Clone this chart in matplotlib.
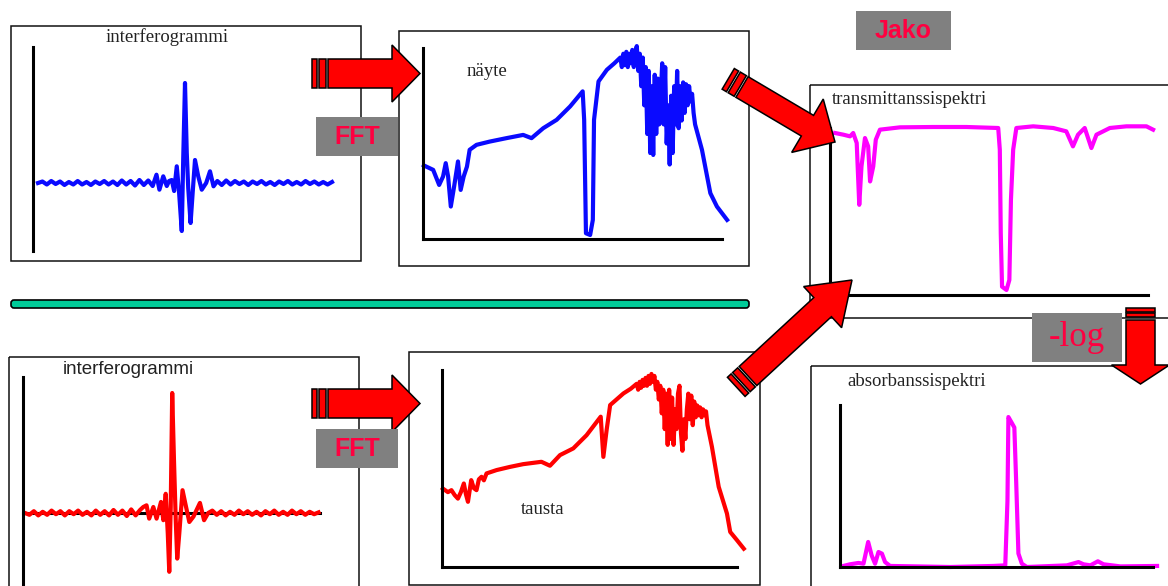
import numpy as np
import matplotlib.pyplot as plt
from matplotlib.patches import Rectangle, FancyArrow, FancyBboxPatch, Polygon

W, H = 1168, 586

# interferograms (x: optical path %, y: signal, 100 = centre burst)
blue_x = [0, 1.5, 3, 4.5, 6, 7.5, 9, 10.5, 12, 13.5, 15, 16.5, 18, 19.5, 21, 22.5, 24, 25.5, 27, 28.5, 30, 31.5, 33, 34.5, 36, 37.5, 39,
          40.3, 41.3, 42.6, 43.8, 44.6, 45.5, 46.3, 47.2, 48.0, 48.9, 49.4, 50.0, 50.6, 51.1, 51.9, 52.6, 53.4, 54.5, 55.7, 57.2, 58.5, 59.7,
          61, 62.5, 64, 65.5, 67, 68.5, 70, 71.5, 73, 74.5, 76, 77.5, 79, 80.5, 82, 83.5, 85, 86.5, 88, 89.5, 91, 92.5, 94, 95.5, 97, 98.5, 100]
blue_y = [0, 1.5, -1.5, 2, -1, 1.5, -2, 1, -1.5, 2, -1.5, 1, -2, 1.5, -1, 2, -1.5, 1.5, -2, 2.5, -1.5, 2, -2.5, 3, -2, 2.5, -3,
          8.3, -6.7, 6.7, -3, 2, 3, -8, 16.7, -10, -48, 25, 100, 30, -5, -40, -10, 23, 6.7, -6.7, 0, 11.7, -3.3,
          2, -2, 2.5, -1.5, 2, -1, 1.5, -2, 1.5, -1, 2, -1.5, 1, -2, 1.5, -1, 2, -1.5, 1, -1.5, 2, -1, 1.5, -1.5, 1, -1.5, 1]

red_x = [0, 1.5, 3, 4.5, 6, 7.5, 9, 10.5, 12, 13.5, 15, 16.5, 18, 19.5, 21, 22.5, 24, 25.5, 27, 28.5, 30, 31.5, 33, 34.5, 36, 37.5, 39,
         40.1, 41.2, 42.1, 43.5, 44.6, 46.1, 46.9, 47.7, 48.4, 48.9, 49.4, 49.9, 50.5, 51.1, 51.6, 52.3, 53.4, 54.6, 55.7, 57.1, 59.3, 60.7, 62.1,
         63.5, 65, 66.5, 68, 69.5, 71, 72.5, 74, 75.5, 77, 78.5, 80, 81.5, 83, 84.5, 86, 87.5, 89, 90.5, 92, 93.5, 95, 96.5, 98, 99.5]
red_y = [0, -1.5, 1.5, -2, 1, -1.5, 2, -1, 1.5, -2, 1.5, -1, 2, -1.5, 1, -2, 2, -1.5, 1.5, -2, 2.5, -1.5, 2, -2.5, 3, -2, 2.5,
         5, 6.4, -4.7, 5, -4.7, 9.2, -6, 16, -17, -49, 5, 100, 44, -6, -38, -17, 19, 5, -7.5, -3, 8.4, -6, 0,
         2, -1.5, 1.5, -2, 1, -1.5, 2, -1, 1.5, -1.5, 1, -2, 1.5, -1, 2, -1.5, 1, -1.5, 2, -1, 1.5, -1.5, 1, -1, 0.5]

# single-beam spectra (x: wavenumber %, y: intensity %)
nayte_x = [0.3, 3.4, 5.4, 6.7, 7.6, 8.4, 9.3, 10.4, 11.7, 12.6, 13.6, 14.7, 15.6, 17.9, 22.3, 27.9, 33.5, 36.3, 40.2, 44.7,
           49.2, 53.4, 53.9, 54.5, 55.9, 56.8, 57.2, 58.7, 61.5, 64.0,
           66.0, 66.5, 67.0, 67.5, 68.0, 68.5, 69.0, 69.5, 70.0, 70.5, 71.0, 71.5, 72.0, 72.5, 73.0, 73.5, 74.0, 74.5,
           75.0, 75.5, 76.0, 76.5, 77.0, 77.5, 78.0, 78.5, 79.0, 79.5, 80.0, 80.5, 81.0, 81.5, 82.0, 82.5, 83.0, 83.5,
           84.0, 84.5, 85.0, 85.5, 86.0, 86.5, 87.0, 87.5, 88.0, 88.5, 89.0, 89.5, 90.0, 90.5, 91.0,
           93.3, 96.1, 98.3, 101.7]
nayte_y = [38.5, 36.2, 28.3, 32.7, 39.7, 32.7, 17.0, 27.4, 40.6, 25.7, 32.7, 37.9, 46.7, 49.3, 51.0, 52.8, 54.5, 52.8, 58.0, 62.4,
           69.4, 77.3, 62.4, 3.0, 2.1, 10.0, 62.4, 82.5, 88.6, 92.0,
           95, 90, 97, 91, 98, 90, 97, 92, 99, 90, 98, 101, 88, 97, 80, 95, 70, 90,
           55, 88, 45, 80, 44, 86, 55, 84, 60, 75, 92, 60, 90, 50, 70, 39, 75, 45,
           80, 60, 88, 58, 80, 62, 82, 66, 81, 70, 80, 72, 76, 66, 60,
           46.7, 24.0, 17.0, 10.0]

tausta_x = [0.3, 2.0, 3.2, 4.3, 5.4, 6.4, 7.4, 8.1, 8.8, 9.9, 10.8, 11.7, 12.5, 13.4, 14.2, 15.1, 18.5, 23.0, 27.5, 33.7,
            36.6, 40.0, 44.5, 49.0, 53.8, 54.7, 55.8, 57.0, 61.5, 64.0,
            66.0, 66.5, 67.0, 67.5, 68.0, 68.5, 69.0, 69.5, 70.0, 70.5, 71.0, 71.5, 72.0, 72.5, 73.0, 73.5, 74.0, 74.5,
            75.0, 75.5, 76.0, 76.5, 77.0, 77.5, 78.0, 78.5, 79.0, 79.5, 80.0, 80.5, 81.0, 81.5, 82.0, 82.5, 83.0, 83.5,
            84.0, 84.5, 85.0, 85.5, 86.0, 86.5, 87.0, 87.5, 88.0, 88.5, 89.0, 89.5, 90.0,
            91.5, 93.8, 96.6, 97.7, 100.0, 102.3]
tausta_y = [39.8, 38.0, 39.0, 36.5, 34.7, 38.0, 42.4, 37.0, 33.1, 44.1, 40.0, 39.0, 44.5, 45.8, 44.0, 47.5, 49.2, 50.8, 52.2, 53.4,
            51.4, 56.8, 60.2, 66.9, 76.3, 55.9, 69.5, 82.2, 88.1, 90.5,
            93, 90, 94, 91, 95, 92, 96, 92, 97, 93, 98, 94, 97, 90, 94, 85, 92, 78,
            90, 70, 88, 62, 90, 65, 86, 62, 80, 70, 88, 92, 68, 59, 75, 65, 80, 88,
            75, 87, 72, 84, 76, 82, 77, 81, 76, 80, 77, 79, 72,
            61.0, 40.7, 27.1, 17.8, 13.6, 9.3]

trans_x = [1.6, 4.2, 6.3, 7.3, 8.4, 9.2, 9.9, 11.0, 12.0, 12.6, 13.6, 14.4, 15.7, 22.0, 32.5, 42.9, 52.9, 53.4, 53.7, 54.1,
           55.5, 56.4, 56.9, 57.6, 58.6, 63.9, 70.2, 74.3, 76.4, 78.0, 80.1, 82.2, 83.8, 88.0, 93.2, 99.5, 101.6]
trans_y = [97, 96, 95, 97, 91, 54, 77, 94, 89, 68, 77, 93, 99, 100.4, 100.6, 100.6, 100, 87, 37, 5,
           3, 9, 57, 87, 100, 101, 100, 98, 89, 96, 100, 88, 96, 100, 101, 101, 99]

abs_x = [0.5, 3.2, 5.9, 7.5, 8.2, 9.0, 10.1, 11.2, 12.3, 13.4, 14.4, 16.0, 24.5, 35.2, 49.0, 52.8, 53.5, 53.8, 54.9, 55.7,
         56.3, 57.0, 58.1, 59.7, 72.5, 76.2, 77.8, 80.0, 82.4, 84.2, 89.6, 101.3]
abs_y = [0.4, 1.8, 2.7, 2.2, 8.9, 16.7, 7.8, 2.2, 10, 8.9, 3.3, 0.7, 0.4, 0, 0.7, 1.1, 44, 100, 96, 93,
         56, 9, 2.2, 0, 1.1, 3.3, 1.8, 1.1, 3.8, 1.8, 0.4, 0.7]

SERIF = ['Liberation Serif', 'DejaVu Serif']
SANS = ['Liberation Sans', 'DejaVu Sans']
TXT = '#222222'
LABEL_RED = '#ff0040'
GRAY = '#808080'

fig = plt.figure(figsize=(W / 100, H / 100), dpi=100)
base = fig.add_axes([0, 0, 1, 1], label='base')
base.set_xlim(0, W)
base.set_ylim(H, 0)
base.axis('off')

# frames
for x0, y0, x1, y1 in [(11, 26, 361, 261), (399, 31, 749, 266), (810, 85, 1180, 318),
                       (9, 357, 359, 600), (409, 352, 760, 585), (811, 366, 1180, 600)]:
    base.add_patch(Rectangle((x0, y0), x1 - x0, y1 - y0, fill=False, ec='#111111', lw=1.1))

base.add_patch(FancyBboxPatch((11, 300), 738, 8, boxstyle='round,pad=0,rounding_size=3',
                              fc='#00cc99', ec='black', lw=1.2))

base.text(167, 37, 'interferogrammi', family=SERIF, fontsize=13.5, color=TXT, ha='center', va='center')
base.text(487, 72, 'näyte', family=SERIF, fontsize=13.5, color=TXT, ha='center', va='center')
base.text(832, 99, 'transmittanssispektri', family=SERIF, fontsize=13.5, color=TXT, ha='left', va='center')
base.text(847, 382, 'absorbanssispektri', family=SERIF, fontsize=13.5, color=TXT, ha='left', va='center')
base.text(543, 510, 'tausta', family=SERIF, fontsize=13.5, color=TXT, ha='center', va='center')
base.text(128, 370, 'interferogrammi', family=SANS, fontsize=13.5, color=TXT, ha='center', va='center')


def inset(x0, y0, x1, y1, ylim=(0, 100)):
    ax = fig.add_axes([x0 / W, 1 - y1 / H, (x1 - x0) / W, (y1 - y0) / H])
    ax.set_xlim(0, 100)
    ax.set_ylim(*ylim)
    ax.patch.set_visible(False)
    ax.set_xticks([])
    ax.set_yticks([])
    for s in ax.spines.values():
        s.set_visible(False)
    return ax


def axis_lines(ax, left=True, bottom=True):
    for name, on in (('left', left), ('bottom', bottom)):
        sp = ax.spines[name]
        sp.set_visible(on)
        sp.set_linewidth(2.2)
        sp.set_color('black')


LW = 3.0

ax1 = inset(38, 83, 332, 183)
ax1.plot(blue_x, blue_y, color='#0a0aff', lw=LW, clip_on=False)
axis_lines(ax1, bottom=False)
ax1.spines['left'].set_position(('data', -1.7))
ax1.spines['left'].set_bounds(-68, 136)

ax2 = inset(423, 48, 722, 239)
ax2.plot(nayte_x, nayte_y, color='#0a0aff', lw=LW, clip_on=False)
axis_lines(ax2)

ax3 = inset(830, 128, 1148, 295)
ax3.plot(trans_x, trans_y, color='#ff00ff', lw=LW, clip_on=False)
axis_lines(ax3)

ax4 = inset(25, 393, 320, 513)
ax4.plot(red_x, red_y, color='#ff0000', lw=LW, clip_on=False)
axis_lines(ax4)
ax4.spines['left'].set_position(('data', -0.7))
ax4.spines['left'].set_bounds(-66, 113)
ax4.spines['bottom'].set_position(('data', 0))
ax4.spines['bottom'].set_bounds(-0.7, 100)
ax4.spines['bottom'].set_zorder(0.5)

ax5 = inset(442, 370, 737, 567)
ax5.plot(tausta_x, tausta_y, color='#ff0000', lw=LW, clip_on=False)
axis_lines(ax5)

ax6 = inset(840, 405, 1153, 567, ylim=(0, 108))
ax6.plot(abs_x, abs_y, color='#ff00ff', lw=LW, clip_on=False)
axis_lines(ax6)

# arrows and labels on top
top = fig.add_axes([0, 0, 1, 1], label='top')
top.set_xlim(0, W)
top.set_ylim(H, 0)
top.axis('off')


def arrow(x0, y0, x1, y1, w, hw, hl, stubs=((-16, -11), (-9, -2))):
    dx, dy = x1 - x0, y1 - y0
    L = np.hypot(dx, dy)
    u = np.array([dx, dy]) / L
    n = np.array([-u[1], u[0]])
    p = np.array([x0, y0])
    for a, b in stubs:
        pts = [p + a * u + w / 2 * n, p + b * u + w / 2 * n, p + b * u - w / 2 * n, p + a * u - w / 2 * n]
        top.add_patch(Polygon(pts, closed=True, fc='#ff0000', ec='black', lw=1.1))
    top.add_patch(FancyArrow(x0, y0, dx, dy, width=w, head_width=hw, head_length=hl,
                             length_includes_head=True, fc='#ff0000', ec='black', lw=1.1))


arrow(328, 73.5, 420, 73.5, 29, 57, 28)
arrow(328, 403.5, 420, 403.5, 29, 57, 28)
arrow(742, 87, 835, 142, 24, 62, 32)
arrow(748, 376, 852, 280, 26, 56, 40)
arrow(1140.5, 320, 1140.5, 384, 29, 58, 19, stubs=((-12, -8), (-7, -3)))


def tag(x0, y0, x1, y1, s, **kw):
    top.add_patch(Rectangle((x0, y0), x1 - x0, y1 - y0, fc=GRAY, ec='none'))
    top.text((x0 + x1) / 2, (y0 + y1) / 2, s, color=LABEL_RED, ha='center', va='center', **kw)


tag(316, 117, 398, 156, 'FFT', family=SANS, fontsize=18, fontweight='bold')
tag(316, 429, 398, 468, 'FFT', family=SANS, fontsize=18, fontweight='bold')
tag(856, 11, 951, 50, 'Jako', family=SANS, fontsize=18, fontweight='bold')
tag(1032, 313, 1122, 362, '-log', family=SERIF, fontsize=25)

fig.savefig('out.png', dpi=100)
